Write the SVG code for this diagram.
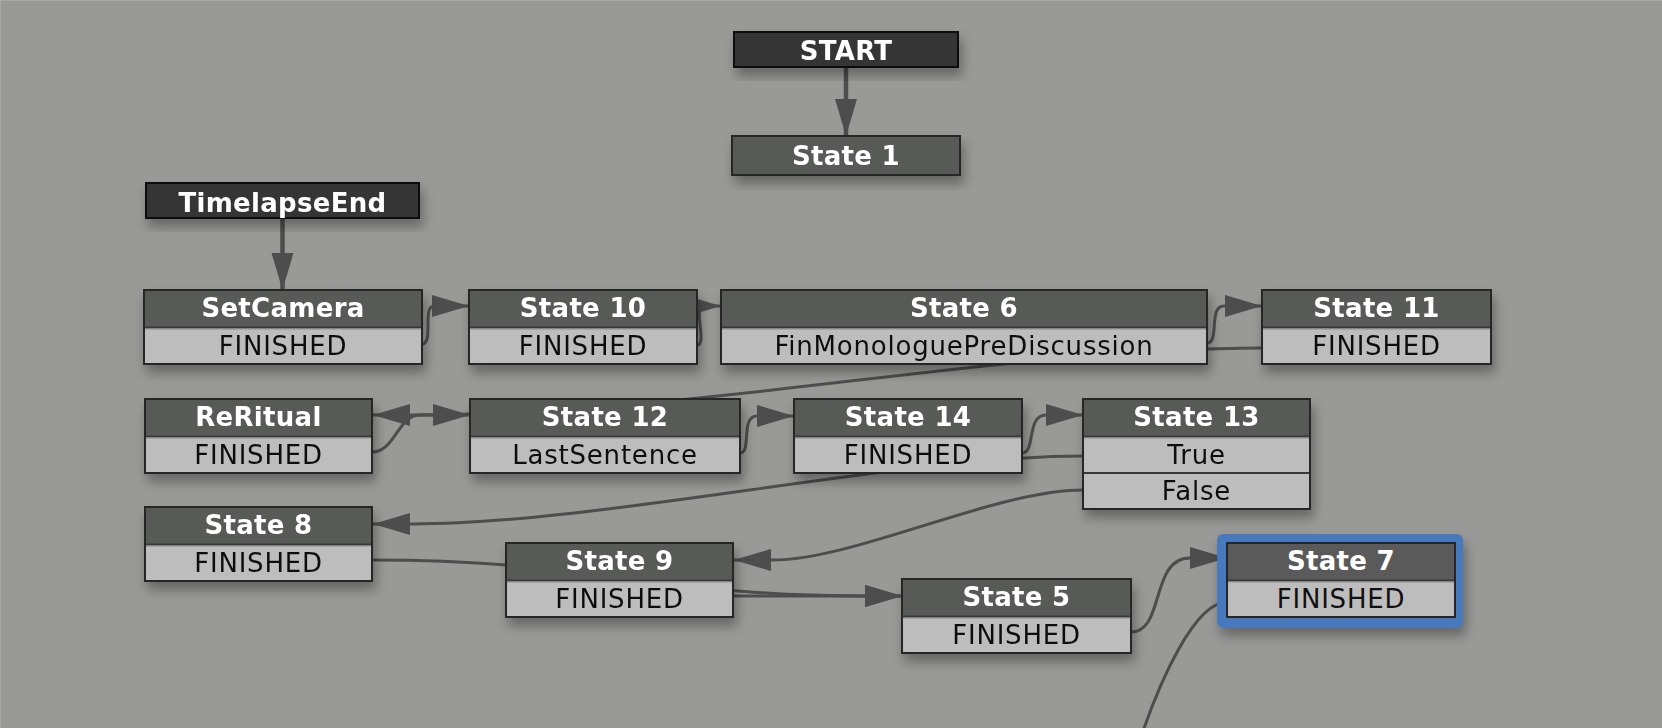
<svg xmlns="http://www.w3.org/2000/svg" width="1662" height="728" viewBox="0 0 1662 728">
<defs>
<filter id="sh" x="-10%" y="-20%" width="125%" height="160%">
<feDropShadow dx="3" dy="8" stdDeviation="6" flood-color="#000" flood-opacity="0.33"/>
</filter>
<marker id="ar" markerUnits="userSpaceOnUse" markerWidth="38" markerHeight="24" viewBox="0 0 38 24" refX="37" refY="12" orient="auto">
<path d="M0,1 L37,12 L0,23 z" fill="#4d4d4d"/>
</marker>
<style>
.bg{fill:#999997}
.box{fill:#bdbdbd;stroke:#262626;stroke-width:2}
.hdr{fill:#595a59}
.sep{stroke:#383838;stroke-width:2}
.sep2{stroke:#8e8e8e;stroke-width:1}
.dark{fill:#353535;stroke:#111;stroke-width:2}
.plain{fill:#595a59;stroke:#262626;stroke-width:2}
.title{font-family:"DejaVu Sans","Liberation Sans",sans-serif;font-weight:bold;font-size:26px;fill:#fff;text-anchor:middle;letter-spacing:0.3px}
.ev{font-family:"DejaVu Sans","Liberation Sans",sans-serif;font-weight:normal;font-size:26px;fill:#111;text-anchor:middle;letter-spacing:0.8px}
.c{fill:none;stroke:#4d4d4d;stroke-width:3}
.cv{fill:none;stroke:#4d4d4d;stroke-width:4.5}
</style>
</defs>
<rect class="bg" x="0" y="0" width="1662" height="728"/>
<path d="M0,0.5 H1662 M0.5,0 V728" stroke="#a8a8a6" stroke-width="1"/>

<g id="connectors">
<path class="cv" d="M846,67 L846,136" marker-end="url(#ar)"/>
<path class="cv" d="M282.5,218 L282.5,290" marker-end="url(#ar)"/>
<path class="c" d="M422,344 C434,344 422,306 434,306 L469,306" marker-end="url(#ar)"/>
<path class="c" d="M697,345 C708,345 692,306 704,306 L721,306" marker-end="url(#ar)"/>
<path class="c" d="M1207,343 C1220,343 1208,306 1224,306 L1262,306" marker-end="url(#ar)"/>
<path class="c" d="M1262,348 C1000,348 700,415 413,415 L373,415" marker-end="url(#ar)"/>
<path class="c" d="M372,452 C395,452 398,415 420,415 L470,415" marker-end="url(#ar)"/>
<path class="c" d="M740,453 C752,453 740,416 757,416 L794,416" marker-end="url(#ar)"/>
<path class="c" d="M1022,453 C1036,453 1026,415 1046,415 L1083,415" marker-end="url(#ar)"/>
<path class="c" d="M1083,456 C900,456 600,524 413,524 L373,524" marker-end="url(#ar)"/>
<path class="c" d="M1083,490 C995,490 855,560 773,560 L734,560" marker-end="url(#ar)"/>
<path class="c" d="M372,560 C600,560 650,596 865,596 L902,596" marker-end="url(#ar)"/>
<path class="c" d="M733,596 L902,596" marker-end="url(#ar)"/>
<path class="c" d="M1131,632 C1165,632 1150,558 1190,558 L1227,558" marker-end="url(#ar)"/>
<path class="c" d="M1227,602 C1195,602 1160,680 1140,740"/>
</g>

<g id="n-start" filter="url(#sh)">
<rect class="dark" x="734" y="32" width="224" height="35"/>
<text class="title" x="846" y="60">START</text>
</g>
<g id="n-state1" filter="url(#sh)">
<rect class="plain" x="732" y="136" width="228" height="39"/>
<text class="title" x="846" y="165">State 1</text>
</g>
<g id="n-timelapseend" filter="url(#sh)">
<rect class="dark" x="146" y="183" width="273" height="35"/>
<text class="title" x="282.5" y="212">TimelapseEnd</text>
</g>

<g id="n-setcamera" filter="url(#sh)">
<rect class="box" x="144" y="290" width="278" height="74"/>
<rect class="hdr" x="145" y="291" width="276" height="36"/>
<line class="sep" x1="145" y1="327.5" x2="421" y2="327.5"/>
<line class="sep2" x1="145" y1="329" x2="421" y2="329"/>
<text class="title" x="283" y="317">SetCamera</text>
<text class="ev" x="283" y="355">FINISHED</text>
</g>
<g id="n-state10" filter="url(#sh)">
<rect class="box" x="469" y="290" width="228" height="74"/>
<rect class="hdr" x="470" y="291" width="226" height="36"/>
<line class="sep" x1="470" y1="327.5" x2="696" y2="327.5"/>
<line class="sep2" x1="470" y1="329" x2="696" y2="329"/>
<text class="title" x="583" y="317">State 10</text>
<text class="ev" x="583" y="355">FINISHED</text>
</g>
<g id="n-state6" filter="url(#sh)">
<rect class="box" x="721" y="290" width="486" height="74"/>
<rect class="hdr" x="722" y="291" width="484" height="36"/>
<line class="sep" x1="722" y1="327.5" x2="1206" y2="327.5"/>
<line class="sep2" x1="722" y1="329" x2="1206" y2="329"/>
<text class="title" x="964" y="317">State 6</text>
<text class="ev" x="964" y="355" letter-spacing="0.1">FinMonologuePreDiscussion</text>
</g>
<g id="n-state11" filter="url(#sh)">
<rect class="box" x="1262" y="290" width="229" height="74"/>
<rect class="hdr" x="1263" y="291" width="227" height="36"/>
<line class="sep" x1="1263" y1="327.5" x2="1490" y2="327.5"/>
<line class="sep2" x1="1263" y1="329" x2="1490" y2="329"/>
<text class="title" x="1376.5" y="317">State 11</text>
<text class="ev" x="1376.5" y="355">FINISHED</text>
</g>

<g id="n-reritual" filter="url(#sh)">
<rect class="box" x="145" y="399" width="227" height="74"/>
<rect class="hdr" x="146" y="400" width="225" height="36"/>
<line class="sep" x1="146" y1="436.5" x2="371" y2="436.5"/>
<line class="sep2" x1="146" y1="438" x2="371" y2="438"/>
<text class="title" x="258.5" y="426">ReRitual</text>
<text class="ev" x="258.5" y="464">FINISHED</text>
</g>
<g id="n-state12" filter="url(#sh)">
<rect class="box" x="470" y="399" width="270" height="74"/>
<rect class="hdr" x="471" y="400" width="268" height="36"/>
<line class="sep" x1="471" y1="436.5" x2="739" y2="436.5"/>
<line class="sep2" x1="471" y1="438" x2="739" y2="438"/>
<text class="title" x="605" y="426">State 12</text>
<text class="ev" x="605" y="464">LastSentence</text>
</g>
<g id="n-state14" filter="url(#sh)">
<rect class="box" x="794" y="399" width="228" height="74"/>
<rect class="hdr" x="795" y="400" width="226" height="36"/>
<line class="sep" x1="795" y1="436.5" x2="1021" y2="436.5"/>
<line class="sep2" x1="795" y1="438" x2="1021" y2="438"/>
<text class="title" x="908" y="426">State 14</text>
<text class="ev" x="908" y="464">FINISHED</text>
</g>
<g id="n-state13" filter="url(#sh)">
<rect class="box" x="1083" y="399" width="227" height="110"/>
<rect class="hdr" x="1084" y="400" width="225" height="36"/>
<line class="sep" x1="1084" y1="436.5" x2="1309" y2="436.5"/>
<line class="sep2" x1="1084" y1="438" x2="1309" y2="438"/>
<line class="sep" x1="1084" y1="473" x2="1309" y2="473"/>
<text class="title" x="1196.5" y="426">State 13</text>
<text class="ev" x="1196.5" y="464">True</text>
<text class="ev" x="1196.5" y="500">False</text>
</g>

<g id="n-state8" filter="url(#sh)">
<rect class="box" x="145" y="507" width="227" height="74"/>
<rect class="hdr" x="146" y="508" width="225" height="36"/>
<line class="sep" x1="146" y1="544.5" x2="371" y2="544.5"/>
<line class="sep2" x1="146" y1="546" x2="371" y2="546"/>
<text class="title" x="258.5" y="534">State 8</text>
<text class="ev" x="258.5" y="572">FINISHED</text>
</g>
<g id="n-state9" filter="url(#sh)">
<rect class="box" x="506" y="543" width="227" height="74"/>
<rect class="hdr" x="507" y="544" width="225" height="36"/>
<line class="sep" x1="507" y1="580.5" x2="732" y2="580.5"/>
<line class="sep2" x1="507" y1="582" x2="732" y2="582"/>
<text class="title" x="619.5" y="570">State 9</text>
<text class="ev" x="619.5" y="608">FINISHED</text>
</g>
<g id="n-state5" filter="url(#sh)">
<rect class="box" x="902" y="579" width="229" height="74"/>
<rect class="hdr" x="903" y="580" width="227" height="36"/>
<line class="sep" x1="903" y1="616.5" x2="1130" y2="616.5"/>
<line class="sep2" x1="903" y1="618" x2="1130" y2="618"/>
<text class="title" x="1016.5" y="606">State 5</text>
<text class="ev" x="1016.5" y="644">FINISHED</text>
</g>
<g id="n-state7">
<rect x="1217" y="534" width="246" height="94" rx="6" fill="#4a79bd" filter="url(#sh)"/>
<rect class="box" x="1227" y="543" width="228" height="74"/>
<rect class="hdr" x="1228" y="544" width="226" height="36"/>
<line class="sep" x1="1228" y1="580.5" x2="1454" y2="580.5"/>
<line class="sep2" x1="1228" y1="582" x2="1454" y2="582"/>
<text class="title" x="1341" y="570">State 7</text>
<text class="ev" x="1341" y="608">FINISHED</text>
</g>
</svg>
